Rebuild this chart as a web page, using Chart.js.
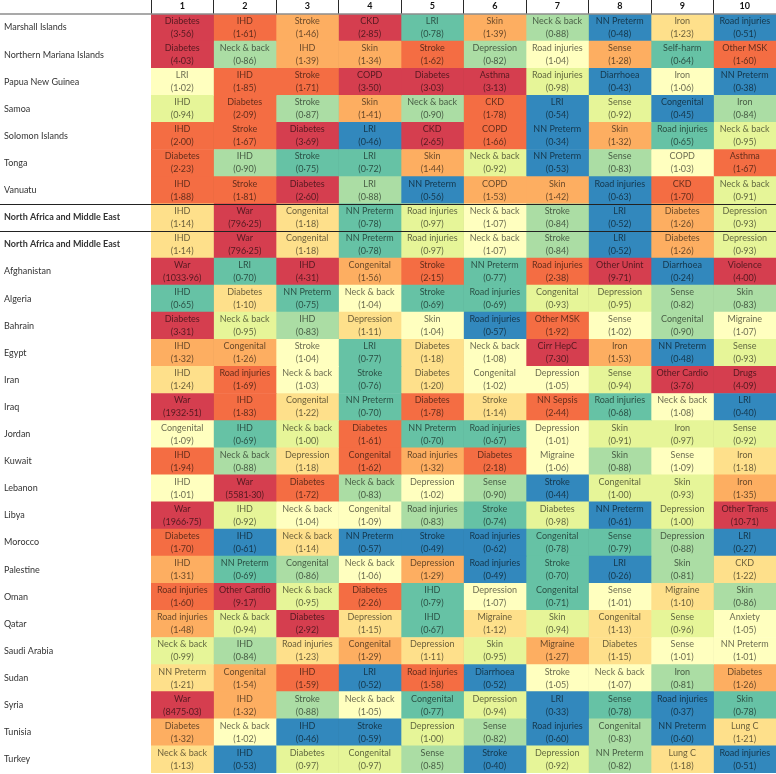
<!DOCTYPE html>
<html>
<head>
<meta charset="utf-8">
<script src="https://cdn.jsdelivr.net/npm/chart.js@4.4.1/dist/chart.umd.min.js"></script>
<style>
  html, body { margin: 0; padding: 0; background: #fff; }
</style>
</head>
<body>
<canvas id="chart" width="776" height="774"></canvas>
<script>
const rows = [
  'Marshall Islands', 'Northern Mariana Islands', 'Papua New Guinea', 'Samoa',
  'Solomon Islands', 'Tonga', 'Vanuatu', 'North Africa and Middle East',
  'North Africa and Middle East', 'Afghanistan', 'Algeria', 'Bahrain', 'Egypt',
  'Iran', 'Iraq', 'Jordan', 'Kuwait', 'Lebanon', 'Libya', 'Morocco', 'Palestine',
  'Oman', 'Qatar', 'Saudi Arabia', 'Sudan', 'Syria', 'Tunisia', 'Turkey'
];

const columns = ['1', '2', '3', '4', '5', '6', '7', '8', '9', '10'];

const boldRows = [7, 8];

const causes = [
  ['Diabetes', 'IHD', 'Stroke', 'CKD', 'LRI', 'Skin', 'Neck & back', 'NN Preterm', 'Iron', 'Road injuries'],
  ['Diabetes', 'Neck & back', 'IHD', 'Skin', 'Stroke', 'Depression', 'Road injuries', 'Sense', 'Self-harm', 'Other MSK'],
  ['LRI', 'IHD', 'Stroke', 'COPD', 'Diabetes', 'Asthma', 'Road injuries', 'Diarrhoea', 'Iron', 'NN Preterm'],
  ['IHD', 'Diabetes', 'Stroke', 'Skin', 'Neck & back', 'CKD', 'LRI', 'Sense', 'Congenital', 'Iron'],
  ['IHD', 'Stroke', 'Diabetes', 'LRI', 'CKD', 'COPD', 'NN Preterm', 'Skin', 'Road injuries', 'Neck & back'],
  ['Diabetes', 'IHD', 'Stroke', 'LRI', 'Skin', 'Neck & back', 'NN Preterm', 'Sense', 'COPD', 'Asthma'],
  ['IHD', 'Stroke', 'Diabetes', 'LRI', 'NN Preterm', 'COPD', 'Skin', 'Road injuries', 'CKD', 'Neck & back'],
  ['IHD', 'War', 'Congenital', 'NN Preterm', 'Road injuries', 'Neck & back', 'Stroke', 'LRI', 'Diabetes', 'Depression'],
  ['IHD', 'War', 'Congenital', 'NN Preterm', 'Road injuries', 'Neck & back', 'Stroke', 'LRI', 'Diabetes', 'Depression'],
  ['War', 'LRI', 'IHD', 'Congenital', 'Stroke', 'NN Preterm', 'Road injuries', 'Other Unint', 'Diarrhoea', 'Violence'],
  ['IHD', 'Diabetes', 'NN Preterm', 'Neck & back', 'Stroke', 'Road injuries', 'Congenital', 'Depression', 'Sense', 'Skin'],
  ['Diabetes', 'Neck & back', 'IHD', 'Depression', 'Skin', 'Road injuries', 'Other MSK', 'Sense', 'Congenital', 'Migraine'],
  ['IHD', 'Congenital', 'Stroke', 'LRI', 'Diabetes', 'Neck & back', 'Cirr HepC', 'Iron', 'NN Preterm', 'Sense'],
  ['IHD', 'Road injuries', 'Neck & back', 'Stroke', 'Diabetes', 'Congenital', 'Depression', 'Sense', 'Other Cardio', 'Drugs'],
  ['War', 'IHD', 'Congenital', 'NN Preterm', 'Diabetes', 'Stroke', 'NN Sepsis', 'Road injuries', 'Neck & back', 'LRI'],
  ['Congenital', 'IHD', 'Neck & back', 'Diabetes', 'NN Preterm', 'Road injuries', 'Depression', 'Skin', 'Iron', 'Sense'],
  ['IHD', 'Neck & back', 'Depression', 'Congenital', 'Road injuries', 'Diabetes', 'Migraine', 'Skin', 'Sense', 'Iron'],
  ['IHD', 'War', 'Diabetes', 'Neck & back', 'Depression', 'Sense', 'Stroke', 'Congenital', 'Skin', 'Iron'],
  ['War', 'IHD', 'Neck & back', 'Congenital', 'Road injuries', 'Stroke', 'Diabetes', 'NN Preterm', 'Depression', 'Other Trans'],
  ['Diabetes', 'IHD', 'Neck & back', 'NN Preterm', 'Stroke', 'Road injuries', 'Congenital', 'Sense', 'Depression', 'LRI'],
  ['IHD', 'NN Preterm', 'Congenital', 'Neck & back', 'Depression', 'Road injuries', 'Stroke', 'LRI', 'Skin', 'CKD'],
  ['Road injuries', 'Other Cardio', 'Neck & back', 'Diabetes', 'IHD', 'Depression', 'Congenital', 'Sense', 'Migraine', 'Skin'],
  ['Road injuries', 'Neck & back', 'Diabetes', 'Depression', 'IHD', 'Migraine', 'Skin', 'Congenital', 'Sense', 'Anxiety'],
  ['Neck & back', 'IHD', 'Road injuries', 'Congenital', 'Depression', 'Skin', 'Migraine', 'Diabetes', 'Sense', 'NN Preterm'],
  ['NN Preterm', 'Congenital', 'IHD', 'LRI', 'Road injuries', 'Diarrhoea', 'Stroke', 'Neck & back', 'Iron', 'Diabetes'],
  ['War', 'IHD', 'Stroke', 'Neck & back', 'Congenital', 'Depression', 'LRI', 'Sense', 'Road injuries', 'Skin'],
  ['Diabetes', 'Neck & back', 'IHD', 'Stroke', 'Depression', 'Sense', 'Road injuries', 'Congenital', 'NN Preterm', 'Lung C'],
  ['Neck & back', 'IHD', 'Diabetes', 'Congenital', 'Sense', 'Stroke', 'Depression', 'NN Preterm', 'Lung C', 'Road injuries']
];

const ratios = [
  [3.56, 1.61, 1.46, 2.85, 0.78, 1.39, 0.88, 0.48, 1.23, 0.51],
  [4.03, 0.86, 1.39, 1.34, 1.62, 0.82, 1.04, 1.28, 0.64, 1.60],
  [1.02, 1.85, 1.71, 3.50, 3.03, 3.13, 0.98, 0.43, 1.06, 0.38],
  [0.94, 2.09, 0.87, 1.41, 0.90, 1.78, 0.54, 0.92, 0.45, 0.84],
  [2.00, 1.67, 3.69, 0.46, 2.65, 1.66, 0.34, 1.32, 0.65, 0.95],
  [2.23, 0.90, 0.75, 0.72, 1.44, 0.92, 0.53, 0.83, 1.03, 1.67],
  [1.88, 1.81, 2.60, 0.88, 0.56, 1.53, 1.42, 0.63, 1.70, 0.91],
  [1.14, 796.25, 1.18, 0.78, 0.97, 1.07, 0.84, 0.52, 1.26, 0.93],
  [1.14, 796.25, 1.18, 0.78, 0.97, 1.07, 0.84, 0.52, 1.26, 0.93],
  [1033.96, 0.70, 4.31, 1.56, 2.15, 0.77, 2.38, 9.71, 0.24, 4.00],
  [0.65, 1.10, 0.75, 1.04, 0.69, 0.69, 0.93, 0.95, 0.82, 0.83],
  [3.31, 0.95, 0.83, 1.11, 1.04, 0.57, 1.92, 1.02, 0.90, 1.07],
  [1.32, 1.26, 1.04, 0.77, 1.18, 1.08, 7.30, 1.53, 0.48, 0.93],
  [1.24, 1.69, 1.03, 0.76, 1.20, 1.02, 1.05, 0.94, 3.76, 4.09],
  [1932.51, 1.83, 1.22, 0.70, 1.78, 1.14, 2.44, 0.68, 1.08, 0.40],
  [1.09, 0.69, 1.00, 1.61, 0.70, 0.67, 1.01, 0.91, 0.97, 0.92],
  [1.94, 0.88, 1.18, 1.62, 1.32, 2.18, 1.06, 0.88, 1.09, 1.18],
  [1.01, 5581.30, 1.72, 0.83, 1.02, 0.90, 0.44, 1.00, 0.93, 1.35],
  [1966.75, 0.92, 1.04, 1.09, 0.83, 0.74, 0.98, 0.61, 1.00, 10.71],
  [1.70, 0.61, 1.14, 0.57, 0.49, 0.62, 0.78, 0.79, 0.88, 0.27],
  [1.31, 0.69, 0.86, 1.06, 1.29, 0.49, 0.70, 0.26, 0.81, 1.22],
  [1.60, 9.17, 0.95, 2.26, 0.79, 1.07, 0.71, 1.01, 1.10, 0.86],
  [1.48, 0.94, 2.92, 1.15, 0.67, 1.12, 0.94, 1.13, 0.96, 1.05],
  [0.99, 0.84, 1.23, 1.29, 1.11, 0.95, 1.27, 1.15, 1.01, 1.01],
  [1.21, 1.54, 1.59, 0.52, 1.58, 0.52, 1.05, 1.07, 0.81, 1.26],
  [8475.03, 1.32, 0.88, 1.05, 0.77, 0.94, 0.33, 0.78, 0.37, 0.78],
  [1.32, 1.02, 0.46, 0.59, 1.00, 0.82, 0.60, 0.83, 0.60, 1.21],
  [1.13, 0.53, 0.97, 0.97, 0.85, 0.40, 0.92, 0.82, 1.18, 0.51]
];

const FONT = 'Lato, "Open Sans", sans-serif';

function ratioColor(r) {
  if (r >= 2.5) return '#d53e4f';
  if (r >= 1.57) return '#f46d43';
  if (r >= 1.25) return '#fdae61';
  if (r >= 1.1) return '#fee08b';
  if (r > 1.0) return '#ffffbf';
  if (r >= 0.905) return '#e6f598';
  if (r >= 0.8) return '#abdda4';
  if (r >= 0.637) return '#66c2a5';
  return '#3288bd';
}

function fmt(r) {
  return '(' + r.toFixed(2).replace('.', '\u00b7') + ')';
}

// writes cause name and ratio in each cell
const cellText = {
  id: 'cellText',
  afterDatasetsDraw(chart) {
    const ctx = chart.ctx;
    ctx.save();
    ctx.textAlign = 'center';
    ctx.textBaseline = 'middle';
    ctx.fillStyle = 'rgba(0,0,0,0.6)';
    ctx.font = '9px ' + FONT;
    chart.data.datasets.forEach((ds, c) => {
      chart.getDatasetMeta(c).data.forEach((bar, r) => {
        const p = bar.getProps(['x', 'base', 'y'], true);
        const cx = (p.x + p.base) / 2;
        ctx.fillText(causes[r][c], cx, p.y - 6.5);
        ctx.fillText(fmt(ratios[r][c]), cx, p.y + 6.5);
      });
    });
    ctx.restore();
  }
};

// horizontal rules under header and around the region row
const rules = {
  id: 'rules',
  afterDraw(chart) {
    const ctx = chart.ctx;
    const y = chart.scales.y;
    const step = y.getPixelForValue(1) - y.getPixelForValue(0);
    ctx.save();
    ctx.strokeStyle = '#8c8c8c';
    ctx.lineWidth = 1.5;
    ctx.beginPath();
    ctx.moveTo(0, chart.chartArea.top);
    ctx.lineTo(chart.width, chart.chartArea.top);
    ctx.stroke();
    ctx.strokeStyle = '#222';
    ctx.lineWidth = 1;
    boldRows.forEach((r) => {
      const yy = Math.round(y.getPixelForValue(r) - step / 2) + 0.5;
      ctx.beginPath();
      ctx.moveTo(0, yy);
      ctx.lineTo(chart.width, yy);
      ctx.stroke();
    });
    ctx.restore();
  }
};

new Chart(document.getElementById('chart'), {
  type: 'bar',
  data: {
    labels: rows,
    datasets: columns.map((col, c) => ({
      label: col,
      data: rows.map(() => [c, c + 1]),
      backgroundColor: rows.map((_, r) => ratioColor(ratios[r][c])),
      borderWidth: 0,
      barPercentage: 1,
      categoryPercentage: 1,
      grouped: false,
      xAxisID: 'x'
    }))
  },
  options: {
    indexAxis: 'y',
    responsive: false,
    animation: false,
    layout: { padding: { left: 4, right: 0, top: 0, bottom: 1 } },
    plugins: {
      legend: { display: false },
      tooltip: { enabled: false }
    },
    scales: {
      x: {
        type: 'linear',
        min: 0,
        max: 10,
        display: false
      },
      head: {
        type: 'category',
        labels: columns,
        position: 'top',
        offset: true,
        afterFit: (scale) => { scale.height = 14; },
        border: { display: false },
        grid: {
          offset: true,
          color: '#2a2a2a',
          lineWidth: 1,
          drawTicks: true,
          tickLength: 14
        },
        ticks: {
          padding: -11,
          color: '#111',
          font: { family: FONT, size: 9, weight: 'bold' },
          maxRotation: 0
        }
      },
      y: {
        type: 'category',
        position: 'left',
        afterFit: (scale) => {
          scale.width = 147;
          scale.paddingTop = 0;
          scale.paddingBottom = 0;
        },
        border: { display: false },
        grid: { display: false },
        ticks: {
          autoSkip: false,
          crossAlign: 'far',
          padding: 0,
          color: '#333',
          font: (ctx) => ({
            family: FONT,
            size: 9,
            weight: boldRows.includes(ctx.index) ? 'bold' : 'normal'
          })
        }
      }
    }
  },
  plugins: [cellText, rules]
});
</script>
</body>
</html>
